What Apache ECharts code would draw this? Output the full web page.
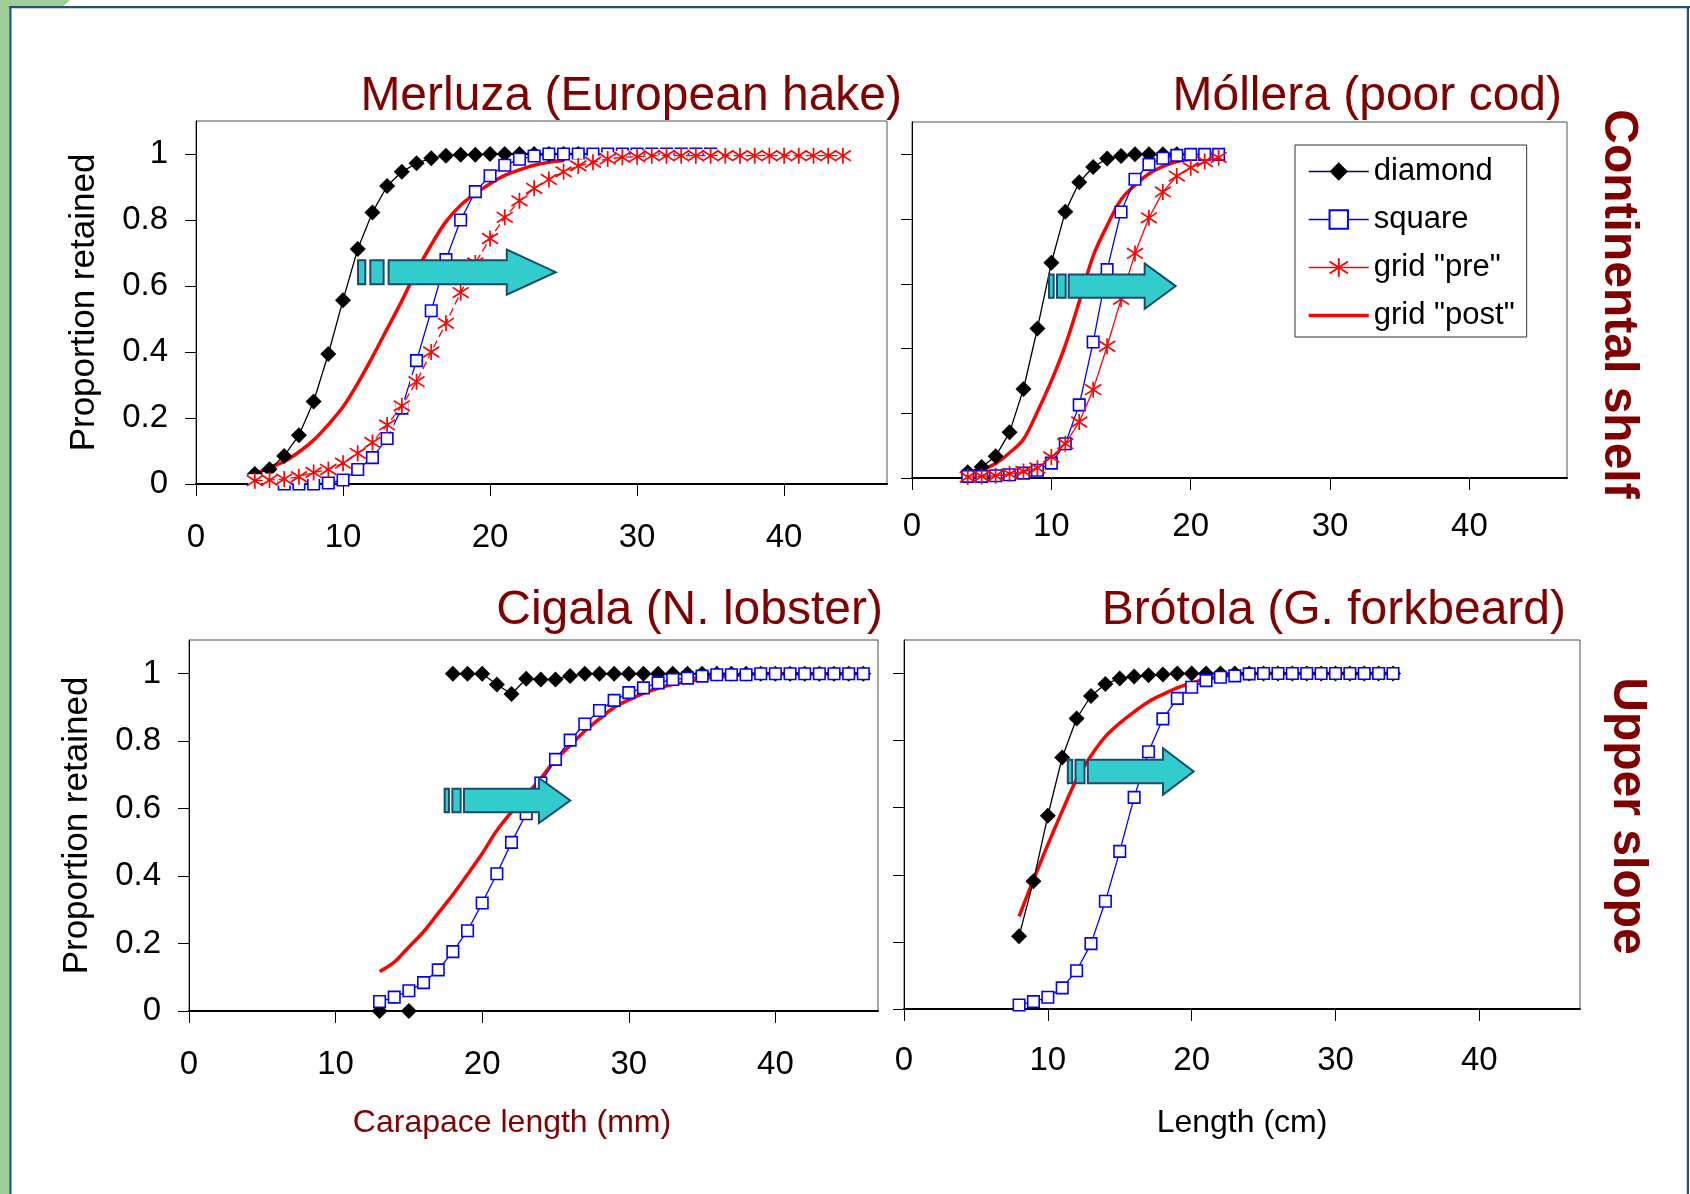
<!DOCTYPE html>
<html><head><meta charset="utf-8">
<script src="https://cdn.jsdelivr.net/npm/echarts@6/dist/echarts.min.js"></script>
<style>html,body{margin:0;padding:0;background:#fff}#main{width:1690px;height:1194px}</style>
</head><body><div id="main"></div>
<script>
// ---------------- DATA ----------------
const xTicks = [0, 10, 20, 30, 40];
const yTicks = [0, 0.2, 0.4, 0.6, 0.8, 1];
const legendNames = ['diamond', 'square', 'grid "pre"', 'grid "post"'];
const panelTitles = ['Merluza (European hake)', 'Móllera (poor cod)', 'Cigala (N. lobster)', 'Brótola (G. forkbeard)'];
const sideLabels = ['Continental shelf', 'Upper slope'];
const xNames = ['Carapace length (mm)', 'Length (cm)'];
const yName = 'Proportion retained';

// Merluza (European hake)
const hakeDiamondX = [4,5,6,7,8,9,10,11,12,13,14,15,16,17,18,19,20,21,22,23,24,25,26];
const hakeDiamondY = [0.03,0.045,0.085,0.148,0.25,0.394,0.557,0.712,0.823,0.903,0.946,0.972,0.987,0.995,0.998,0.998,1,1,1,1,1,1,1];
const hakeSquareX = [6,7,8,9,10,11,12,13,14,15,16,17,18,19,20,21,22,23,24,25,26,27,28,29,30,31,32,33,34,35];
const hakeSquareY = [0,0,0,0.003,0.012,0.044,0.08,0.138,0.23,0.374,0.525,0.68,0.8,0.886,0.934,0.966,0.984,0.994,1,1,1,1,1,1,1,1,1,1,1,1];
const hakePreX = [4,5,6,7,8,9,10,11,12,13,14,15,16,17,18,19,20,21,22,23,24,25,26,27,28,29,30,31,32,33,34,35,36,37,38,39,40,41,42,43,44];
const hakePreY = [0.01,0.012,0.015,0.022,0.035,0.044,0.063,0.093,0.126,0.179,0.237,0.31,0.4,0.487,0.58,0.67,0.744,0.808,0.858,0.896,0.923,0.946,0.964,0.975,0.985,0.99,0.992,0.995,0.995,0.995,0.995,0.995,0.995,0.995,0.995,0.995,0.995,0.995,0.995,0.995,0.995];
const hakePostX = [4,5,6,7,8,9,10,11,12,13,14,15,16,17,18,19,20,21,22,23,24,25];
const hakePostY = [0.03,0.05,0.068,0.097,0.133,0.18,0.234,0.305,0.385,0.47,0.555,0.645,0.725,0.795,0.845,0.88,0.91,0.935,0.952,0.966,0.975,0.98];

// Móllera (poor cod)
const codDiamondX = [4,5,6,7,8,9,10,11,12,13,14,15,16,17,18,19];
const codDiamondY = [0.018,0.034,0.067,0.141,0.275,0.462,0.665,0.823,0.914,0.961,0.987,0.995,1,1,1,1];
const codSquareX = [4,5,6,7,8,9,10,11,12,13,14,15,16,17,18,19,20,21,22];
const codSquareY = [0.005,0.005,0.007,0.01,0.015,0.024,0.046,0.106,0.226,0.42,0.644,0.822,0.923,0.969,0.988,0.997,1,1,1];
const codPreX = [4,5,6,7,8,9,10,11,12,13,14,15,16,17,18,19,20,21,22];
const codPreY = [0.003,0.005,0.007,0.013,0.02,0.031,0.065,0.106,0.173,0.273,0.407,0.552,0.694,0.804,0.884,0.933,0.959,0.978,0.99];
const codPostX = [4,5,6,7,8,9,10,11,12,13,14,15,16,17,18,19,20];
const codPostY = [0.01,0.025,0.045,0.078,0.12,0.205,0.3,0.41,0.545,0.686,0.78,0.86,0.905,0.94,0.963,0.978,0.985];

// Cigala (N. lobster)
const lobDiamondX = [13,14,15,16,17,18,19,20,21,22,23,24,25,26,27,28,29,30,31,32,33,34,35,36,37,38,39,40,41,42,43,44,45,46];
const lobDiamondY = [0,null,0,null,null,1,1,1,0.968,0.94,0.985,0.983,0.983,0.993,1,1,1,1,1,1,1,1,1,1,1,1,1,1,1,1,1,1,1,1];
const lobSquareX = [13,14,15,16,17,18,19,20,21,22,23,24,25,26,27,28,29,30,31,32,33,34,35,36,37,38,39,40,41,42,43,44,45,46];
const lobSquareY = [0.028,0.041,0.06,0.084,0.122,0.176,0.238,0.32,0.407,0.5,0.585,0.676,0.746,0.803,0.851,0.891,0.921,0.944,0.958,0.973,0.983,0.987,0.993,0.997,0.997,0.997,1,1,1,1,1,1,1,1];
const lobPostX = [13,14,15,16,17,18,19,20,21,22,23,24,25,26,27,28,29,30,31,32,33,34,35,36,37,38,39,40,41,42,43,44,45,46];
const lobPostY = [0.117,0.145,0.19,0.235,0.29,0.345,0.405,0.467,0.535,0.59,0.64,0.69,0.745,0.787,0.83,0.866,0.9,0.922,0.942,0.957,0.968,0.977,0.985,0.99,0.994,0.997,1,1,1,1,1,1,1,1];

// Brótola (G. forkbeard)
const fbDiamondX = [8,9,10,11,12,13,14,15,16,17,18,19,20,21,22,23,24,25,26,27,28,29,30,31,32,33,34];
const fbDiamondY = [0.217,0.381,0.576,0.75,0.866,0.933,0.969,0.985,0.991,0.995,0.997,1,1,1,1,1,1,1,1,1,1,1,1,1,1,1,1];
const fbSquareX = [8,9,10,11,12,13,14,15,16,17,18,19,20,21,22,23,24,25,26,27,28,29,30,31,32,33,34];
const fbSquareY = [0.012,0.022,0.035,0.063,0.114,0.195,0.321,0.47,0.631,0.767,0.865,0.926,0.959,0.979,0.989,0.993,0.999,1,1,1,1,1,1,1,1,1,1];
const fbPostX = [8,9,10,11,12,13,14,15,16,17,18,19,20,21,22,23,24,25,26,27,28,29,30,31,32,33,34];
const fbPostY = [0.276,0.385,0.49,0.59,0.685,0.755,0.812,0.852,0.886,0.916,0.938,0.957,0.972,0.984,0.992,0.997,1,1,1,1,1,1,1,1,1,1,1];

// arrow annotations (data coordinates: tail x, tip x, y)
const arrowFrom = [11.02, 9.83, 17.44, 11.39];
const arrowTo = [24.47, 18.92, 26.01, 20.14];
const arrowY = [0.642, 0.593, 0.624, 0.708];

// ---------------- LAYOUT / STYLE ----------------
const FONT = '"Liberation Sans", Arial, Helvetica, sans-serif';
const DARKRED = '#800000';
const grids = [
  {left: 196, top: 121, width: 691, height: 363},
  {left: 912, top: 122, width: 655, height: 356},
  {left: 189, top: 640, width: 689, height: 371},
  {left: 904, top: 640, width: 676, height: 369}
];
const xLabelMargin = [37, 32, 37.5, 35.5];
const ASTER = 'path://M10 0L10 20M0 3.5L20 16.5M0 16.5L20 3.5';

function pairs(xs, ys) { return xs.map((x, i) => [x, ys[i]]); }

function diamondS(g, xs, ys) {
  return {type: 'line', name: legendNames[0], xAxisIndex: g, yAxisIndex: g, data: pairs(xs, ys),
    symbol: 'diamond', symbolSize: 16, z: 3, silent: true,
    itemStyle: {color: '#000'}, lineStyle: {color: '#000', width: 1.3}};
}
function squareS(g, xs, ys) {
  return {type: 'line', name: legendNames[1], xAxisIndex: g, yAxisIndex: g, data: pairs(xs, ys),
    symbol: 'rect', symbolSize: 11.5, z: 4, silent: true,
    itemStyle: {color: '#fff', borderColor: '#0000ff', borderWidth: 1.6},
    lineStyle: {color: '#0000ff', width: 1.3}};
}
function preBgS(g, xs, ys) {
  return {type: 'line', name: 'pre-bg', xAxisIndex: g, yAxisIndex: g, data: pairs(xs, ys),
    symbol: 'rect', symbolSize: 13, z: 5, silent: true,
    itemStyle: {color: '#fff', borderWidth: 0}, lineStyle: {width: 0, opacity: 0}};
}
function preS(g, xs, ys, dashed) {
  return {type: 'line', name: legendNames[2], xAxisIndex: g, yAxisIndex: g, data: pairs(xs, ys),
    symbol: ASTER, symbolSize: 16, z: 6, silent: true,
    itemStyle: {color: 'rgba(255,255,255,0)', borderColor: '#ff0000', borderWidth: 1.7},
    lineStyle: {color: '#ff0000', width: 1.3, type: dashed ? [8, 4] : 'solid'}};
}
function postS(g, xs, ys) {
  return {type: 'line', name: legendNames[3], xAxisIndex: g, yAxisIndex: g, data: pairs(xs, ys),
    symbol: 'none', smooth: 0.35, z: 2, silent: true,
    itemStyle: {color: '#ff0000'}, lineStyle: {color: '#ff0000', width: 3.5}};
}

const xAxes = grids.map((gr, i) => ({
  type: 'value', gridIndex: i, min: 0, max: 47, interval: 10,
  axisLine: {show: true, lineStyle: {color: '#000', width: 2}},
  axisTick: {show: true, inside: false, length: 12, lineStyle: {color: '#000', width: 1}, customValues: xTicks},
  axisLabel: {show: true, margin: xLabelMargin[i], fontSize: 33, color: '#000', fontFamily: FONT, customValues: xTicks},
  splitLine: {show: false}
}));
const yAxes = grids.map((gr, i) => ({
  type: 'value', gridIndex: i, min: 0, max: 1.1, interval: 0.2,
  name: (i === 0 || i === 2) ? yName : '',
  nameLocation: 'middle', nameGap: 94, nameRotate: 90,
  nameTextStyle: {fontSize: 35, color: '#000', fontFamily: FONT},
  axisLine: {show: true, lineStyle: {color: '#000', width: 1}},
  axisTick: {show: true, inside: false, length: 11, lineStyle: {color: '#000', width: 1}, customValues: yTicks},
  axisLabel: {show: (i === 0 || i === 2), margin: 28, fontSize: 33, color: '#000', fontFamily: FONT, customValues: yTicks},
  splitLine: {show: false}
}));

const series = [
  postS(0, hakePostX, hakePostY), diamondS(0, hakeDiamondX, hakeDiamondY), squareS(0, hakeSquareX, hakeSquareY),
  preBgS(0, hakePreX, hakePreY), preS(0, hakePreX, hakePreY, true),
  postS(1, codPostX, codPostY), diamondS(1, codDiamondX, codDiamondY), squareS(1, codSquareX, codSquareY),
  preS(1, codPreX, codPreY, false),
  postS(2, lobPostX, lobPostY), diamondS(2, lobDiamondX, lobDiamondY), squareS(2, lobSquareX, lobSquareY),
  postS(3, fbPostX, fbPostY), diamondS(3, fbDiamondX, fbDiamondY), squareS(3, fbSquareX, fbSquareY)
];

const chart = echarts.init(document.getElementById('main'), null, {renderer: 'canvas', width: 1690, height: 1194});
chart.setOption({
  animation: false,
  backgroundColor: '#fff',
  textStyle: {fontFamily: FONT},
  grid: grids.map(g => Object.assign({show: true, borderColor: '#505050', borderWidth: 1, backgroundColor: '#fff', containLabel: false}, g)),
  xAxis: xAxes,
  yAxis: yAxes,
  legend: {
    show: true, orient: 'vertical', left: 1295, top: 145, z: 20,
    itemWidth: 60, itemHeight: 23, itemGap: 17, padding: [11, 12, 6, 12],
    borderColor: '#333', borderWidth: 1, backgroundColor: '#fff', selectedMode: false,
    textStyle: {fontSize: 31, color: '#000', fontFamily: FONT},
    data: [
      {name: legendNames[0], lineStyle: {color: '#000080', width: 1.5}},
      {name: legendNames[1], lineStyle: {width: 1.5}},
      {name: legendNames[2], lineStyle: {type: 'solid', width: 1.5}},
      {name: legendNames[3], itemStyle: {opacity: 0}, lineStyle: {width: 3.5, type: 'solid'}}
    ]
  },
  series: series
});

// ---------------- ANNOTATIONS ----------------
function text(str, x, y, size, color, align, extra) {
  return Object.assign({
    type: 'text', x: x, y: y, z: 50, silent: true,
    style: Object.assign({text: str, fill: color, font: size + 'px ' + FONT,
      align: align, verticalAlign: 'middle', textAlign: align, textVerticalAlign: 'middle'}, extra && extra.style || {})
  }, extra && extra.el || {});
}
const arrowStyle = [
  {bars: [7.3, 5, 13.3, 5], head: 49, bh: 12, hh: 22.5},
  {bars: [4.7, 3.3, 8.7, 3], head: 31, bh: 11.7, hh: 22.6},
  {bars: [4.3, 3.4, 8.3, 3.3], head: 31.4, bh: 11.7, hh: 22.5},
  {bars: [4.4, 3.3, 9, 3.3], head: 30.7, bh: 11.8, hh: 23.2}
];
const FILL = '#33cccc', STROKE = '#1a4a6e';
const gfx = [
  {type: 'rect', shape: {x: 0, y: 0, width: 9.5, height: 1194}, style: {fill: '#9dcf97'}, z: 60, silent: true},
  {type: 'polygon', shape: {points: [[0, 0], [70, 0], [63, 6.5], [0, 6.5]]}, style: {fill: '#9dcf97'}, z: 60, silent: true},
  {type: 'rect', shape: {x: 9.3, y: 6, width: 2.2, height: 1188}, style: {fill: '#24507e'}, z: 61, silent: true},
  {type: 'rect', shape: {x: 9.3, y: 6, width: 1681, height: 2.2}, style: {fill: '#24507e'}, z: 61, silent: true},
  {type: 'rect', shape: {x: 1686.8, y: 6, width: 2.2, height: 1188}, style: {fill: '#24507e'}, z: 61, silent: true}
];
// titles
gfx.push(text(panelTitles[0], 902, 97, 48, DARKRED, 'right'));
gfx.push(text(panelTitles[1], 1562, 97, 48, DARKRED, 'right'));
gfx.push(text(panelTitles[2], 883, 611, 48, DARKRED, 'right'));
gfx.push(text(panelTitles[3], 1566, 611, 48, DARKRED, 'right'));
// side labels (rotated clockwise)
gfx.push(text(sideLabels[0], 1618, 304, 48, DARKRED, 'center', {style: {font: 'bold 48px ' + FONT}, el: {rotation: -Math.PI / 2}}));
gfx.push(text(sideLabels[1], 1627, 816, 48, DARKRED, 'center', {style: {font: 'bold 48px ' + FONT}, el: {rotation: -Math.PI / 2}}));
// x axis names
gfx.push(text(xNames[0], 512, 1123, 32, DARKRED, 'center'));
gfx.push(text(xNames[1], 1242, 1123, 32, '#000', 'center'));
// arrows
for (let i = 0; i < 4; i++) {
  const p0 = chart.convertToPixel({gridIndex: i}, [arrowFrom[i], arrowY[i]]);
  const p1 = chart.convertToPixel({gridIndex: i}, [arrowTo[i], arrowY[i]]);
  const s = arrowStyle[i];
  const x0 = p0[0], py = p0[1], tip = p1[0];
  const b = s.bars;
  gfx.push({type: 'rect', z: 40, silent: true, shape: {x: x0, y: py - s.bh, width: b[0], height: 2 * s.bh}, style: {fill: FILL, stroke: STROKE, lineWidth: 2}});
  gfx.push({type: 'rect', z: 40, silent: true, shape: {x: x0 + b[0] + b[1], y: py - s.bh, width: b[2], height: 2 * s.bh}, style: {fill: FILL, stroke: STROKE, lineWidth: 2}});
  const bs = x0 + b[0] + b[1] + b[2] + b[3];
  const hb = tip - s.head;
  gfx.push({type: 'polygon', z: 40, silent: true, shape: {points: [
    [bs, py - s.bh], [hb, py - s.bh], [hb, py - s.hh], [tip, py], [hb, py + s.hh], [hb, py + s.bh], [bs, py + s.bh]
  ]}, style: {fill: FILL, stroke: STROKE, lineWidth: 2, lineJoin: 'miter'}});
}
chart.setOption({graphic: {elements: gfx}});
</script></body></html>
